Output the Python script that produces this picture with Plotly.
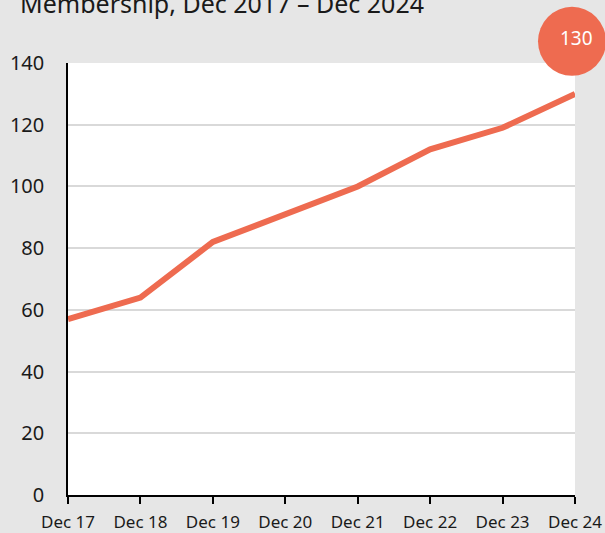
import plotly.graph_objects as go

title = "Membership, Dec 2017 – Dec 2024"
categories = ["Dec 17", "Dec 18", "Dec 19", "Dec 20", "Dec 21", "Dec 22", "Dec 23", "Dec 24"]
members = [57, 64, 82, 91, 100, 112, 119, 130]
y_ticks = [0, 20, 40, 60, 80, 100, 120, 140]
y_max = 140

LINE = "#ee6b50"
FONT = "Noto Sans"

fig = go.Figure()
fig.add_trace(go.Scatter(
    x=categories, y=members, mode="lines",
    line=dict(color=LINE, width=6), cliponaxis=False, hoverinfo="skip",
))

last_y = members[-1]
last_paper_y = last_y / y_max  # y axis spans [0, y_max] over the full domain

# bubble above last point (paper refs so it is not clipped by the plot area)
fig.add_shape(
    type="circle", xref="paper", yref="paper",
    xsizemode="pixel", ysizemode="pixel",
    xanchor=1, yanchor=last_paper_y,
    x0=-37, x1=31, y0=18, y1=87,
    fillcolor=LINE, line=dict(width=0), layer="above",
)
fig.add_annotation(
    x=1, y=last_paper_y, xref="paper", yref="paper",
    xanchor="center", yanchor="middle",
    text=str(last_y), showarrow=False,
    xshift=1, yshift=56,
    font=dict(family=FONT, size=19, color="white"),
)

fig.add_annotation(
    x=0, y=1, xref="paper", yref="paper", xanchor="left", yanchor="middle",
    text=title, showarrow=False, xshift=-50, yshift=60,
    font=dict(family=FONT, size=25, color="#1a1a1a"),
)

fig.update_layout(
    width=605, height=533,
    margin=dict(l=68, r=30, t=63, b=38, autoexpand=False),
    paper_bgcolor="#e6e6e6", plot_bgcolor="white",
    showlegend=False,
    font=dict(family=FONT, color="#1a1a1a"),
)
fig.update_xaxes(
    type="category", range=[0, len(categories) - 1],
    showline=True, linecolor="black", linewidth=2,
    ticks="outside", ticklen=7, tickwidth=2, tickcolor="black",
    showgrid=False, tickfont=dict(size=17, family=FONT),
    ticklabelstandoff=4, automargin=False,
)
fig.update_yaxes(
    range=[0, y_max], tickvals=y_ticks,
    showline=True, linecolor="black", linewidth=1.5,
    gridcolor="#d9d9d9", gridwidth=1.5,
    ticks="", tickfont=dict(size=20, family=FONT),
    ticklabelstandoff=18, zeroline=False, automargin=False,
)

fig.write_html(
    "out.html",
    config={"displayModeBar": False},
    post_script="document.body.style.margin='0';document.body.style.background='#e6e6e6';",
)
